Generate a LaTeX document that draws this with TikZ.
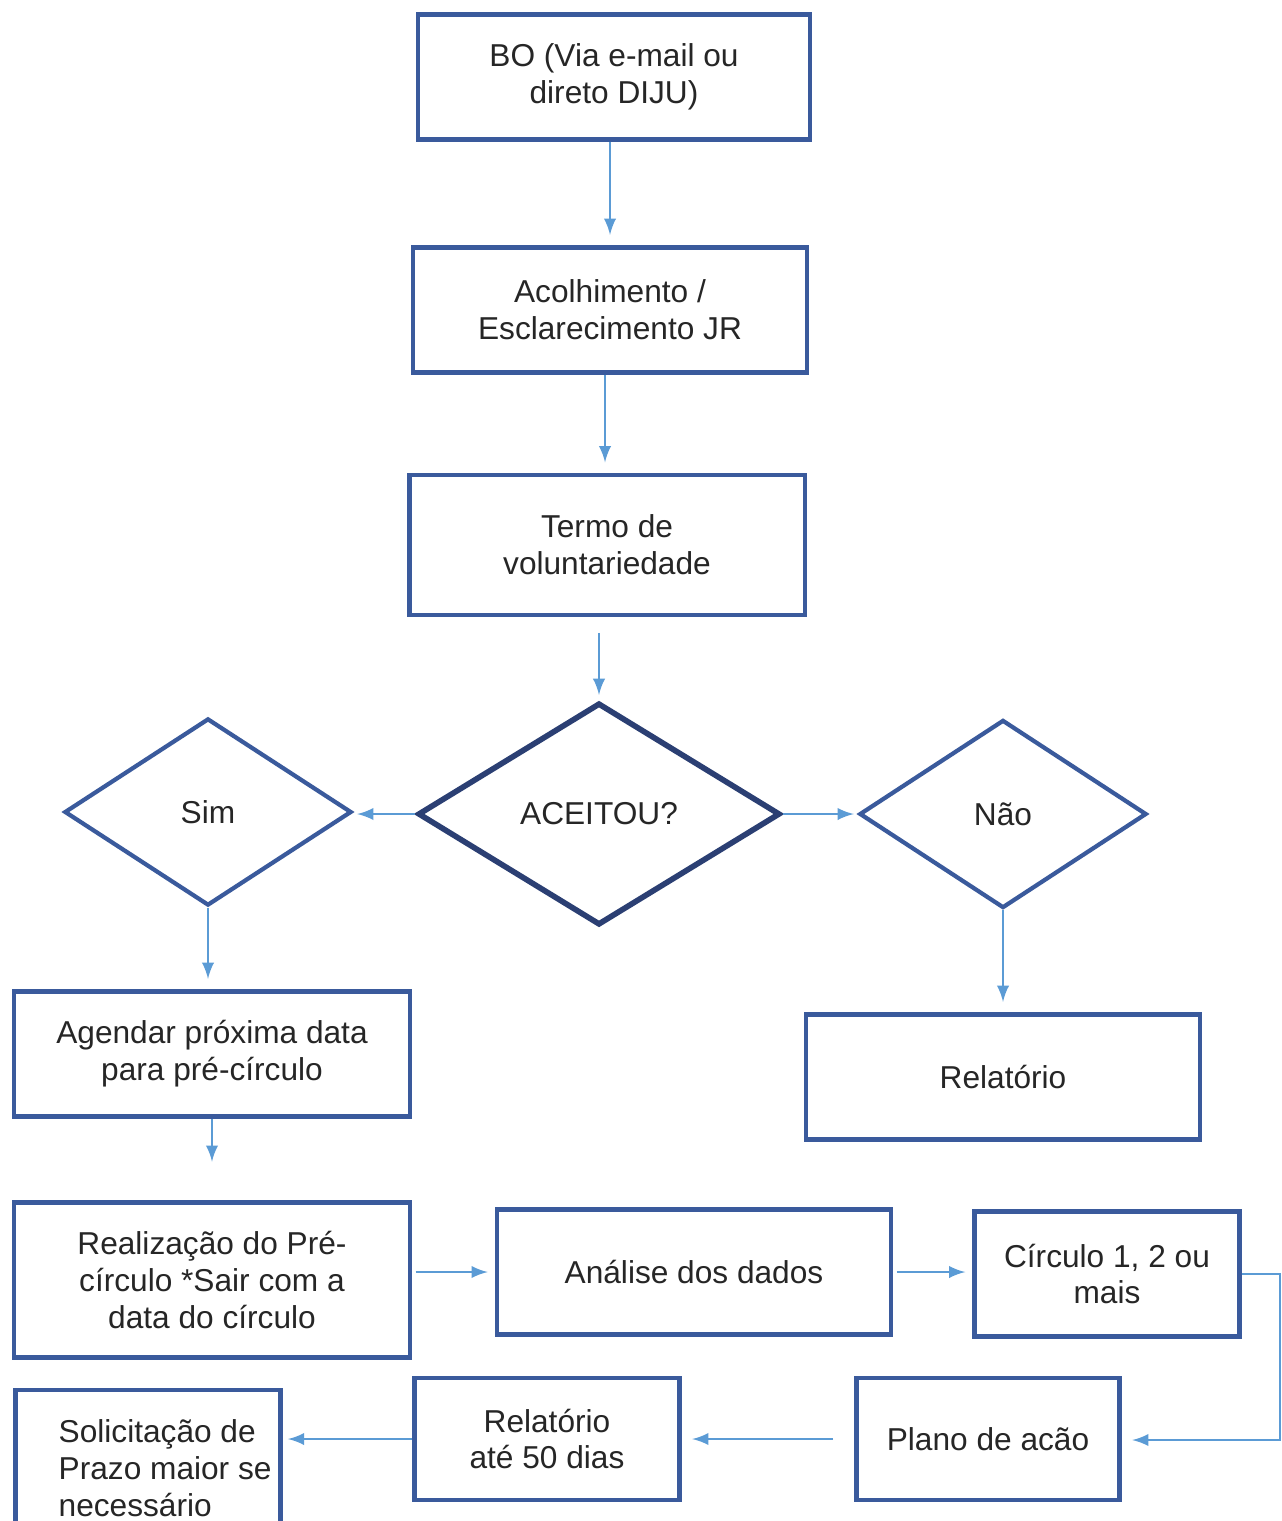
\documentclass[tikz,border=0pt]{standalone}
\usepackage{fontspec}
\setmainfont{Liberation Sans}
\usetikzlibrary{shapes.geometric}
\definecolor{borda}{HTML}{3A5A9C}
\definecolor{escuro}{HTML}{2B3F73}
\definecolor{azulseta}{HTML}{5B9BD5}

\begin{document}
\begin{tikzpicture}[x=0.01cm, y=-0.01cm,
  every node/.style={font=\fontsize{9}{10.5}\selectfont, align=center, inner sep=0pt, text=black!85},
  caixa/.style={rectangle, draw=borda, line width=1.2pt, fill=white},
  losango/.style={diamond, draw=borda, line width=1.2pt, fill=white},
  fluxo/.style={->, >=latex, draw=azulseta, line width=0.6pt, shorten >=3pt}]
\path[use as bounding box, clip] (0,0) rectangle (1282,1521);
\node[caixa, minimum width=3.92cm, minimum height=1.25cm] (bo) at (614,77) {BO (Via e-mail ou\\direto DIJU)};
\node[caixa, minimum width=3.94cm, minimum height=1.25cm] (acolh) at (610,310) {Acolhimento /\\Esclarecimento JR};
\node[caixa, minimum width=3.95cm, minimum height=1.40cm] (termo) at (607,545) {Termo de\\voluntariedade};
\node[losango, draw=escuro, line width=1.6pt, minimum width=3.62cm, minimum height=2.22cm] (aceitou) at (599,814) {ACEITOU?};
\node[losango, minimum width=2.87cm, minimum height=1.87cm] (sim) at (208,812) {Sim};
\node[losango, minimum width=2.87cm, minimum height=1.88cm] (nao) at (1003,814) {Não};
\node[caixa, minimum width=3.95cm, minimum height=1.25cm] (agendar) at (212,1054) {Agendar próxima data\\para pré-círculo};
\node[caixa, minimum width=3.94cm, minimum height=1.25cm] (relat) at (1003,1077) {Relatório};
\node[caixa, minimum width=3.96cm, minimum height=1.55cm] (realiz) at (212,1280) {Realização do Pré-\\círculo *Sair com a\\data do círculo};
\node[caixa, minimum width=3.94cm, minimum height=1.25cm] (analise) at (694,1272) {Análise dos dados};
\node[caixa, minimum width=2.65cm, minimum height=1.25cm] (circulo) at (1107,1274) {Círculo 1, 2 ou\\mais};
\node[caixa, minimum width=2.63cm, minimum height=1.22cm] (plano) at (988,1439) {Plano de acão};
\node[caixa, minimum width=2.65cm, minimum height=1.22cm] (relat50) at (547,1439) {Relatório\\até 50 dias};
\node[caixa, minimum width=2.65cm, minimum height=1.56cm] (solic) at (148,1468) {};
\node[anchor=west, align=left] (solictxt) at (58,1468) {Solicitação de\\Prazo maior se\\necessário};
\coordinate (canto1) at (1280,1274);
\coordinate (canto2) at (1280,1440);

\draw[fluxo] (acolh.north |- bo.south) -- (acolh.north);
\draw[fluxo] (acolh.south -| 605,0) -- (termo.north -| 605,0);
\draw[fluxo, shorten <=4.5pt, shorten >=1.5pt] (termo.south -| aceitou.north) -- (aceitou.north);
\draw[fluxo, shorten >=1pt] (aceitou.west) -- (sim.east |- aceitou.west);
\draw[fluxo, shorten >=1pt] (aceitou.east) -- (nao.west);
\draw[fluxo] (sim.south) -- (sim.south |- agendar.north);
\draw[fluxo] (nao.south) -- (relat.north);
\draw[fluxo, shorten >=11pt] (agendar.south) -- (realiz.north);
\draw[fluxo, shorten <=1pt, shorten >=2pt] (realiz.east |- analise.west) -- (analise.west);
\draw[fluxo, shorten <=1pt, shorten >=2pt] (analise.east) -- (circulo.west |- analise.east);
\draw[fluxo] (circulo.east) -- (canto1) -- (canto2) -- (plano.east |- canto2);
\draw[fluxo, shorten <=6pt, shorten >=3pt] (plano.west) -- (relat50.east);
\draw[fluxo, shorten >=1.5pt] (relat50.west) -- (solic.east |- relat50.west);
\end{tikzpicture}
\end{document}
